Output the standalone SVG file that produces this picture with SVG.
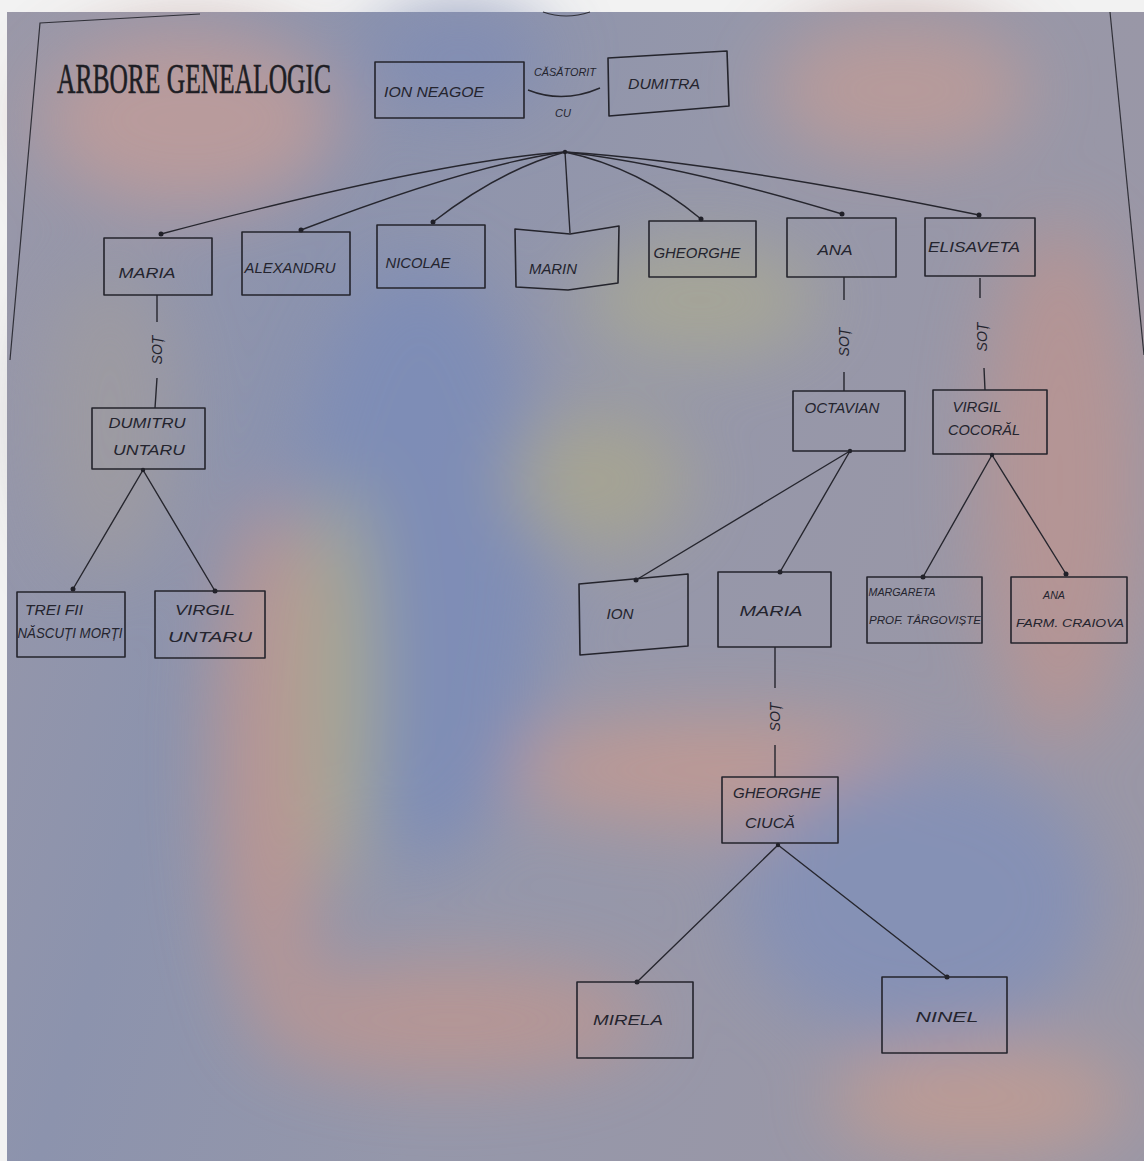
<svg xmlns="http://www.w3.org/2000/svg" width="1144" height="1161" viewBox="0 0 1144 1161">
<style>
.box{fill:none;stroke:#24242c;stroke-width:1.6;stroke-linejoin:round}
.ln{fill:none;stroke:#26262e;stroke-width:1.4}
.dot{fill:#202028}
.lbl{font-family:"Liberation Sans","DejaVu Sans",sans-serif;font-style:italic;font-size:14px;fill:#24242e;text-anchor:middle}
.sm{font-size:11px}
.title{font-family:"Liberation Serif","DejaVu Serif",serif;font-size:25.5px;fill:#1e1e24;stroke:#1e1e24;stroke-width:0.35}
.edge{fill:none;stroke:#303038;stroke-width:1.2}
</style>
<defs>
<linearGradient id="bg" x1="0" y1="0" x2="1" y2="0.3">
<stop offset="0" stop-color="#9a98a8"/>
<stop offset="0.3" stop-color="#8c93ad"/>
<stop offset="0.6" stop-color="#9597aa"/>
<stop offset="1" stop-color="#9a97a6"/>
</linearGradient>
<filter id="soft" x="-20%" y="-20%" width="140%" height="140%"><feGaussianBlur stdDeviation="35"/></filter>
</defs>
<rect x="0" y="0" width="1144" height="1161" fill="#f2f2f2"/>
<rect x="7" y="12" width="1137" height="1149" fill="url(#bg)"/>
<g id="background" filter="url(#soft)" opacity="0.85">
<ellipse cx="190" cy="120" rx="150" ry="90" fill="#c09c9a"/>
<ellipse cx="460" cy="60" rx="90" ry="50" fill="#7f8cb5"/>
<ellipse cx="900" cy="90" rx="130" ry="70" fill="#bd9b98"/>
<ellipse cx="700" cy="300" rx="120" ry="60" fill="#a9a894"/>
<ellipse cx="1060" cy="480" rx="80" ry="260" fill="#b99492"/>
<ellipse cx="420" cy="560" rx="130" ry="300" fill="#7b8cb8"/>
<ellipse cx="270" cy="760" rx="55" ry="260" fill="#bf9690"/>
<ellipse cx="340" cy="680" rx="35" ry="200" fill="#a9ad8e"/>
<ellipse cx="110" cy="420" rx="70" ry="160" fill="#9f9ba0"/>
<ellipse cx="720" cy="770" rx="210" ry="55" fill="#c39a92"/>
<ellipse cx="920" cy="900" rx="180" ry="140" fill="#8290b8"/>
<ellipse cx="450" cy="1020" rx="200" ry="60" fill="#bb9692"/>
<ellipse cx="980" cy="1100" rx="150" ry="55" fill="#c29c92"/>
<ellipse cx="600" cy="480" rx="90" ry="70" fill="#a8a690"/>
</g>
<g id="page-border">
<path class="edge" d="M200,14 L40,23 L10,360"/>
<path class="edge" d="M1110,12 L1144,355"/>
<path class="edge" d="M543,12 Q566,20 590,12"/>
</g>
<text class="title" transform="translate(57,93) scale(1,1.65)" x="0" y="0">ARBORE GENEALOGIC</text>
<g id="connectors">
<path class="ln" d="M528,90 Q563,104 600,88"/>
<text class="lbl sm" x="565" y="76" textLength="62" lengthAdjust="spacingAndGlyphs">CĂSĂTORIT</text>
<text class="lbl sm" x="563" y="117">CU</text>
<path class="ln" d="M565,152 Q440,160 161,234"/>
<path class="ln" d="M565,152 Q470,165 301,230"/>
<path class="ln" d="M565,152 Q500,170 433,222"/>
<path class="ln" d="M565,152 L570,233"/>
<path class="ln" d="M565,152 Q640,168 701,219"/>
<path class="ln" d="M565,152 Q680,165 842,214"/>
<path class="ln" d="M565,152 Q720,162 979,215"/>
<circle class="dot" cx="565" cy="152" r="2.2"/>
<circle class="dot" cx="161" cy="234" r="2.5"/>
<circle class="dot" cx="301" cy="230" r="2.5"/>
<circle class="dot" cx="433" cy="222" r="2.5"/>
<circle class="dot" cx="701" cy="219" r="2.5"/>
<circle class="dot" cx="842" cy="214" r="2.5"/>
<circle class="dot" cx="979" cy="215" r="2.5"/>
<path class="ln" d="M157,295 L157,322 M157,378 L155,408"/>
<text class="lbl" transform="translate(162,350) rotate(-90)">SOȚ</text>
<path class="ln" d="M844,277 L844,300 M844,372 L844,391"/>
<text class="lbl" transform="translate(849,342) rotate(-90)">SOȚ</text>
<path class="ln" d="M980,278 L980,298 M984,368 L985,390"/>
<text class="lbl" transform="translate(987,337) rotate(-90)">SOȚ</text>
<path class="ln" d="M775,647 L775,688 M775,745 L775,777"/>
<text class="lbl" transform="translate(780,717) rotate(-90)">SOȚ</text>
<path class="ln" d="M143,470 L73,589 M143,470 L215,591"/>
<circle class="dot" cx="143" cy="470" r="2.2"/>
<circle class="dot" cx="73" cy="589" r="2.5"/>
<circle class="dot" cx="215" cy="591" r="2.5"/>
<path class="ln" d="M850,451 L636,580 M850,451 L780,572"/>
<circle class="dot" cx="850" cy="451" r="2.2"/>
<circle class="dot" cx="636" cy="580" r="2.5"/>
<circle class="dot" cx="780" cy="572" r="2.5"/>
<path class="ln" d="M992,455 L923,577 M992,455 L1066,574"/>
<circle class="dot" cx="992" cy="455" r="2.2"/>
<circle class="dot" cx="923" cy="577" r="2.5"/>
<circle class="dot" cx="1066" cy="574" r="2.5"/>
<path class="ln" d="M778,845 L637,982 M778,845 L947,977"/>
<circle class="dot" cx="778" cy="845" r="2.2"/>
<circle class="dot" cx="637" cy="982" r="2.5"/>
<circle class="dot" cx="947" cy="977" r="2.5"/>
</g>
<g id="ion-neagoe"><rect class="box" x="375" y="62" width="149" height="56"/><text class="lbl" x="434" y="97" textLength="100" lengthAdjust="spacingAndGlyphs">ION NEAGOE</text></g>
<g id="dumitra"><polygon class="box" points="608,58 727,51 729,106 609,116"/><text class="lbl" x="664" y="89" textLength="72" lengthAdjust="spacingAndGlyphs">DUMITRA</text></g>
<g id="maria"><rect class="box" x="104" y="238" width="108" height="57"/><text class="lbl" x="147" y="278" textLength="57" lengthAdjust="spacingAndGlyphs">MARIA</text></g>
<g id="alexandru"><rect class="box" x="242" y="232" width="108" height="63"/><text class="lbl" x="290" y="273" textLength="91" lengthAdjust="spacingAndGlyphs">ALEXANDRU</text></g>
<g id="nicolae"><rect class="box" x="377" y="225" width="108" height="63"/><text class="lbl" x="418" y="268" textLength="65" lengthAdjust="spacingAndGlyphs">NICOLAE</text></g>
<g id="marin"><polygon class="box" points="515,229 570,234 619,226 618,283 568,290 516,287"/><text class="lbl" x="553" y="274" textLength="48" lengthAdjust="spacingAndGlyphs">MARIN</text></g>
<g id="gheorghe"><rect class="box" x="649" y="221" width="107" height="56"/><text class="lbl" x="697" y="258" textLength="87" lengthAdjust="spacingAndGlyphs">GHEORGHE</text></g>
<g id="ana"><rect class="box" x="787" y="218" width="109" height="59"/><text class="lbl" x="835" y="255" textLength="35" lengthAdjust="spacingAndGlyphs">ANA</text></g>
<g id="elisaveta"><rect class="box" x="925" y="218" width="110" height="58"/><text class="lbl" x="974" y="252" textLength="92" lengthAdjust="spacingAndGlyphs">ELISAVETA</text></g>
<g id="dumitru-untaru"><rect class="box" x="92" y="408" width="113" height="61"/><text class="lbl" x="147" y="428" textLength="77" lengthAdjust="spacingAndGlyphs">DUMITRU</text><text class="lbl" x="149" y="455" textLength="72" lengthAdjust="spacingAndGlyphs">UNTARU</text></g>
<g id="octavian"><rect class="box" x="793" y="391" width="112" height="60"/><text class="lbl" x="842" y="413" textLength="75" lengthAdjust="spacingAndGlyphs">OCTAVIAN</text></g>
<g id="virgil-cocoral"><rect class="box" x="933" y="390" width="114" height="64"/><text class="lbl" x="977" y="412" textLength="49" lengthAdjust="spacingAndGlyphs">VIRGIL</text><text class="lbl" x="984" y="435" textLength="72" lengthAdjust="spacingAndGlyphs">COCORĂL</text></g>
<g id="trei-fii"><rect class="box" x="17" y="592" width="108" height="65"/><text class="lbl" x="54" y="615" textLength="58" lengthAdjust="spacingAndGlyphs">TREI FII</text><text class="lbl" x="70" y="638" textLength="105" lengthAdjust="spacingAndGlyphs">NĂSCUȚI MORȚI</text></g>
<g id="virgil-untaru"><rect class="box" x="155" y="591" width="110" height="67"/><text class="lbl" x="205" y="615" textLength="60" lengthAdjust="spacingAndGlyphs">VIRGIL</text><text class="lbl" x="210" y="642" textLength="84" lengthAdjust="spacingAndGlyphs">UNTARU</text></g>
<g id="ion"><polygon class="box" points="579,584 688,574 688,646 580,655"/><text class="lbl" x="620" y="619" textLength="27" lengthAdjust="spacingAndGlyphs">ION</text></g>
<g id="maria-2"><rect class="box" x="718" y="572" width="113" height="75"/><text class="lbl" x="771" y="616" textLength="63" lengthAdjust="spacingAndGlyphs">MARIA</text></g>
<g id="margareta"><rect class="box" x="867" y="577" width="115" height="66"/><text class="lbl sm" x="902" y="596" textLength="67" lengthAdjust="spacingAndGlyphs">MARGARETA</text><text class="lbl sm" x="925" y="624" textLength="112" lengthAdjust="spacingAndGlyphs">PROF. TÂRGOVIȘTE</text></g>
<g id="ana-farm"><rect class="box" x="1011" y="577" width="116" height="66"/><text class="lbl sm" x="1054" y="599" textLength="22" lengthAdjust="spacingAndGlyphs">ANA</text><text class="lbl sm" x="1070" y="627" textLength="108" lengthAdjust="spacingAndGlyphs">FARM. CRAIOVA</text></g>
<g id="gheorghe-ciuca"><rect class="box" x="722" y="777" width="116" height="66"/><text class="lbl" x="777" y="798" textLength="88" lengthAdjust="spacingAndGlyphs">GHEORGHE</text><text class="lbl" x="770" y="828" textLength="50" lengthAdjust="spacingAndGlyphs">CIUCĂ</text></g>
<g id="mirela"><rect class="box" x="577" y="982" width="116" height="76"/><text class="lbl" x="628" y="1025" textLength="70" lengthAdjust="spacingAndGlyphs">MIRELA</text></g>
<g id="ninel"><rect class="box" x="882" y="977" width="125" height="76"/><text class="lbl" x="947" y="1022" textLength="63" lengthAdjust="spacingAndGlyphs">NINEL</text></g>
</svg>
